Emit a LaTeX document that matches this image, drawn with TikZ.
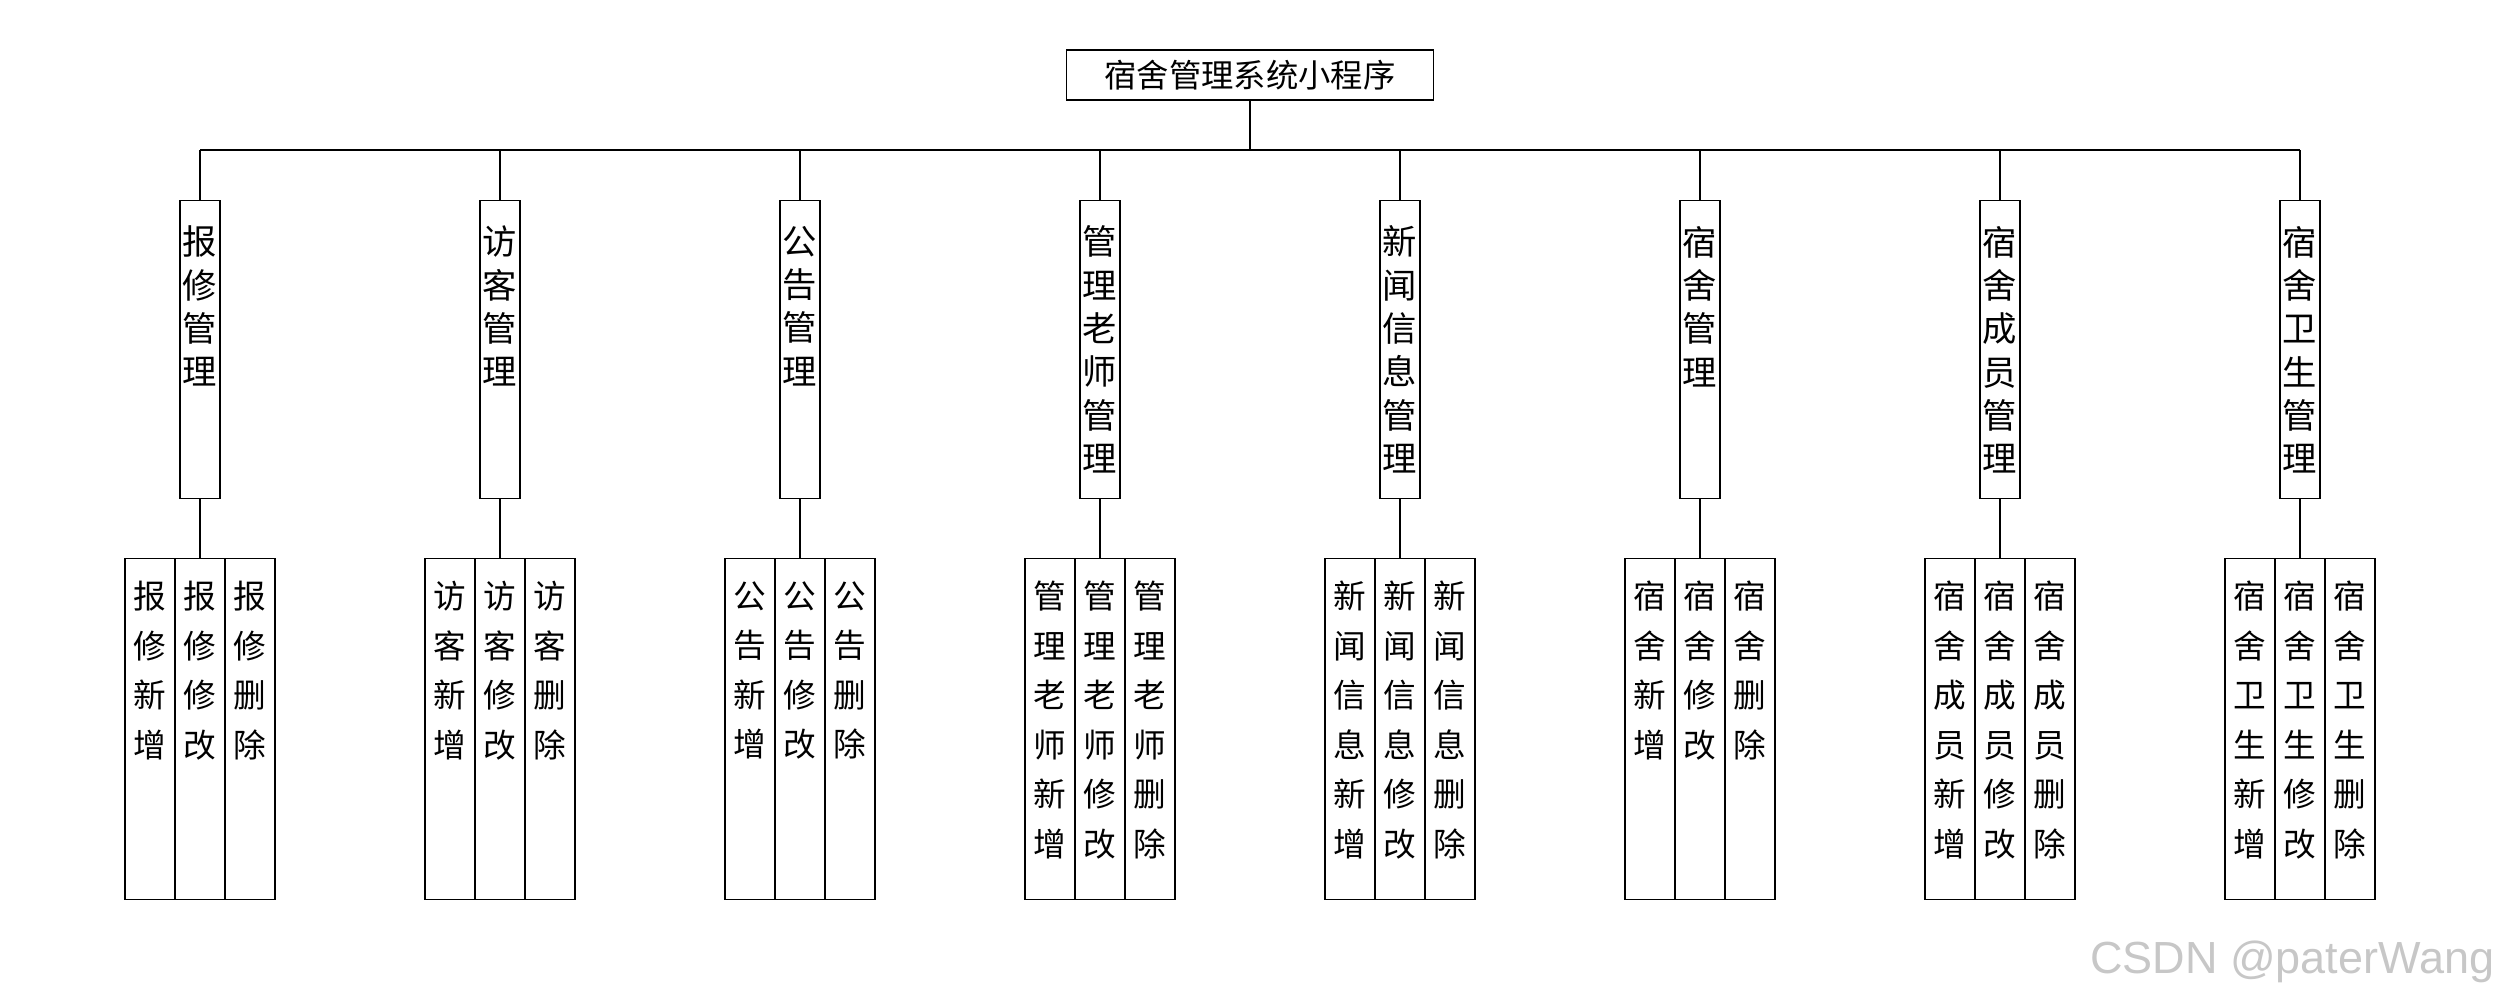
\documentclass[tikz,border=0pt]{standalone}
\usepackage{fontspec}
\setmainfont{Noto Sans CJK SC}
\newfontfamily\wmfont{Liberation Sans}
\begin{document}
\begin{tikzpicture}[x=0.3pt,y=-0.3pt,
  box/.style={draw,line width=0.4pt,inner sep=0pt,anchor=north},
  conn/.style={line width=0.4pt}]
\useasboundingbox (0,0) rectangle (2500,1000);
\newcommand{\midtxt}[1]{\parbox[t][89.4pt][t]{12pt}{\vspace*{7.6pt}\centering\fontsize{10.3}{13}\selectfont #1\par}}
\newcommand{\bottxt}[1]{\parbox[t][102.3pt][t]{15pt}{\vspace*{6.8pt}\centering\fontsize{9.8}{14.85}\selectfont #1\par}}
\node[draw,line width=0.4pt,inner sep=0pt,minimum width=110.1pt,minimum height=15pt,font=\fontsize{9.7}{12}\selectfont] (top) at (1250,75) {宿舍管理系统小程序};
\coordinate (busL) at (200,150);
\coordinate (busR) at (2300,150);
\draw[conn] (busL) -- (busR);
\draw[conn] (top.south) -- (top.south |- busL);
\foreach \i/\x/\m/\p in {
  1/200/{报\\修\\管\\理}/{报\\修},
  2/500/{访\\客\\管\\理}/{访\\客},
  3/800/{公\\告\\管\\理}/{公\\告},
  4/1100/{管\\理\\老\\师\\管\\理}/{管\\理\\老\\师},
  5/1400/{新\\闻\\信\\息\\管\\理}/{新\\闻\\信\\息},
  6/1700/{宿\\舍\\管\\理}/{宿\\舍},
  7/2000/{宿\\舍\\成\\员\\管\\理}/{宿\\舍\\成\\员},
  8/2300/{宿\\舍\\卫\\生\\管\\理}/{宿\\舍\\卫\\生}}{
  \node[box] (m\i) at (\x,200) {\midtxt{\m}};
  \node[box] (a\i) at (\x-50,558) {\bottxt{\p\\新\\增}};
  \node[box] (b\i) at (\x,558) {\bottxt{\p\\修\\改}};
  \node[box] (c\i) at (\x+50,558) {\bottxt{\p\\删\\除}};
  \draw[conn] (m\i.north) -- (m\i.north |- busL);
  \draw[conn] (m\i.south) -- (b\i.north);
}
\node[anchor=east,inner sep=0pt,text=black!22,font=\wmfont\fontsize{13.5}{16}\selectfont] (wm) at (2495,962) {CSDN @paterWang};
\end{tikzpicture}
\end{document}
